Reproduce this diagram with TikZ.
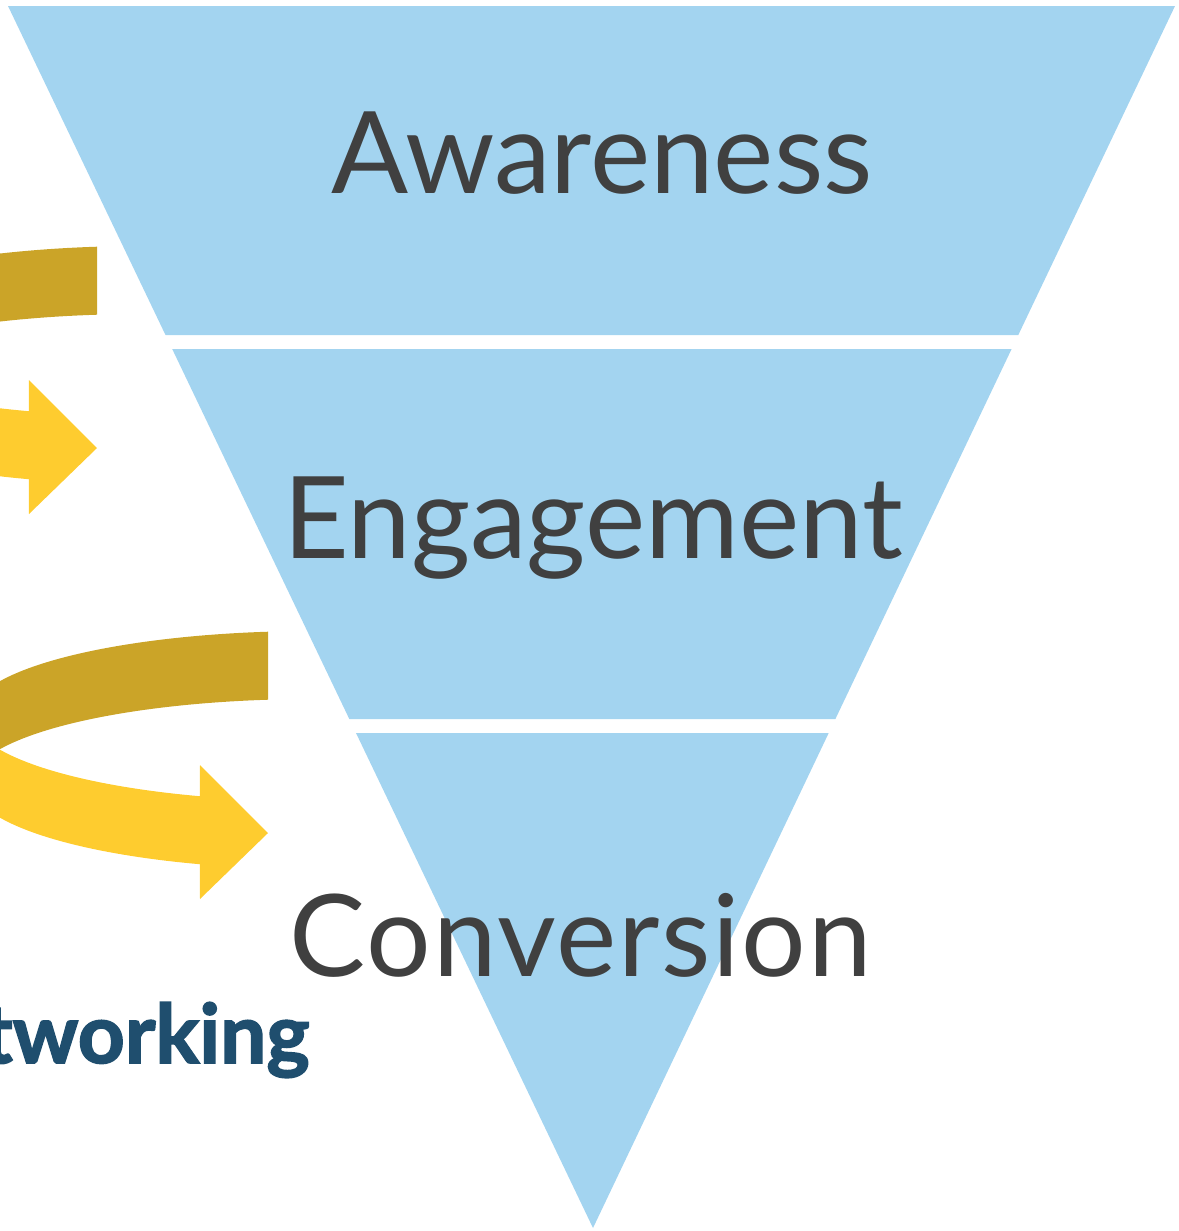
\documentclass[tikz,border=0pt]{standalone}
\usepackage{fontspec}
\setmainfont{Lato}
\newfontfamily\netheavy{Lato}[BoldFeatures={FakeBold=2}]
\definecolor{funnelblue}{HTML}{A3D4F0}
\definecolor{labelgray}{HTML}{404040}
\definecolor{ringgold}{HTML}{CBA428}
\definecolor{ringyellow}{HTML}{FECC2F}
\definecolor{netblue}{HTML}{1F4E6E}

\tikzset{
  stage/.style={font=\fontsize{57}{60}\selectfont, text=labelgray, inner sep=0pt, anchor=base},
  nettext/.style={font=\netheavy\bfseries\fontsize{41}{44}\selectfont, text=netblue, inner sep=0pt, anchor=base east},
  % a looping ribbon arrow: back half in gold, front half in yellow with a head
  loopring/.pic={
    \fill[ringgold]
      plot[domain=97.4:180, samples=50] ({312+341*cos(\x)}, {749-84*sin(\x)-34})
      -- plot[domain=180:97.4, samples=50] ({312+341*cos(\x)}, {749-84*sin(\x)+34})
      -- cycle;
    \fill[ringyellow]
      plot[domain=180:250.8, samples=50] ({312+341*cos(\x)}, {749-86*sin(\x)-34})
      -- (200,765) -- (268,833) -- (200,899)
      -- plot[domain=250.8:180, samples=50] ({312+341*cos(\x)}, {749-86*sin(\x)+34})
      -- cycle;
  }
}

\begin{document}
\begin{tikzpicture}[x=0.5pt,y=-0.5pt]
\useasboundingbox (0,0) rectangle (1178,1231);
\clip (0,0) rectangle (1178,1231);

% funnel corners
\coordinate (t1a) at (8,6);      \coordinate (t1b) at (1175,6);
\coordinate (t1c) at (1018.3,335); \coordinate (t1d) at (165.5,335);
\coordinate (t2a) at (172.2,349); \coordinate (t2b) at (1011.6,349);
\coordinate (t2c) at (835.4,719);  \coordinate (t2d) at (349.3,719);
\coordinate (t3a) at (356.0,733); \coordinate (t3b) at (828.7,733);
\coordinate (t3c) at (593,1228);

% funnel stages
\fill[funnelblue] (t1a) -- (t1b) -- (t1c) -- (t1d) -- cycle;
\fill[funnelblue] (t2a) -- (t2b) -- (t2c) -- (t2d) -- cycle;
\fill[funnelblue] (t3a) -- (t3b) -- (t3c) -- cycle;

% looping arrows
\pic at (-171,-385) {loopring};
\pic at (0,0) {loopring};

% labels
\node[stage] (aware) at (602,193) {Awareness};
\node[stage] (engage) at (593,558) {Engagement};
\node[stage] (conv) at (581,976) {\addfontfeature{LetterSpace=1.6}Conversion};
\node[nettext] (net) at (310,1063) {Networking};
\end{tikzpicture}
\end{document}
